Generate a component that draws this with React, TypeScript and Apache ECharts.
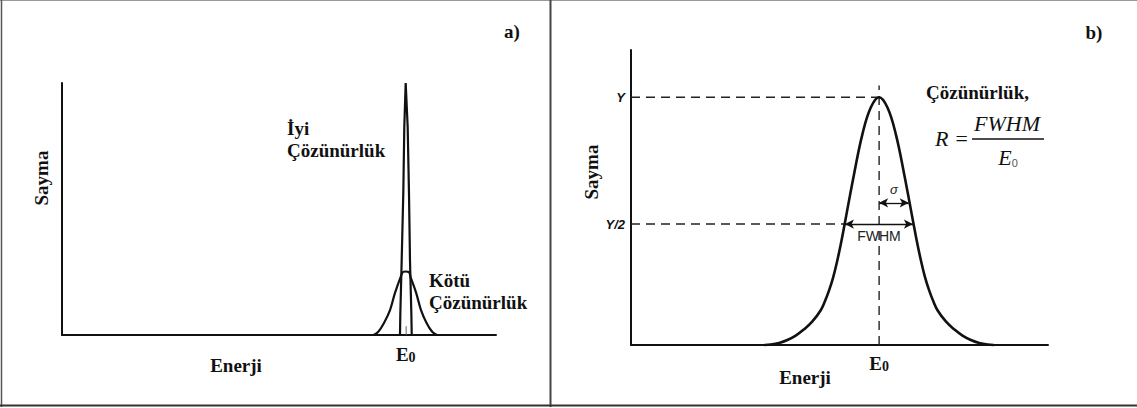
import React, { useEffect, useRef } from "react";
import * as echarts from "echarts";

// ---- Data ----
// Panel a: x in 0..100 energy units, y in 0..100 count units
const E0_A = 79.2;
const GOOD_PEAK: [number, number][] = [
  [77.88, 0], [77.95, 8], [78.27, 29.8], [78.64, 56.3], [78.87, 82.5], [79.19, 100],
  [79.65, 82.5], [79.95, 56.3], [80.18, 29.8], [80.5, 8], [80.58, 0],
];
const POOR_PEAK: [number, number][] = [
  [71.8, 0], [72.88, 1.3], [74.19, 4.8], [75.58, 9.9], [76.73, 16.7], [78.04, 23.1],
  [78.57, 25], [79.2, 25.2], [79.95, 25], [80.3, 23.1], [81.6, 16.7], [82.72, 9.9],
  [84.0, 4.8], [85.3, 1.3], [86.4, 0],
];
const E0_MARK: [number, number][] = [[79.3, 0], [79.3, 3.5]];

// Panel b
const E0_B = 59.5;
const PEAK_B: [number, number][] = [
  [32.0, 0], [33.5, 0.15], [35.5, 0.7], [37.5, 1.7], [39.5, 3.2], [41.5, 5.3], [43.5, 8.0],
  [45.5, 11.8], [46.5, 14.8], [47.5, 18.5], [48.5, 23], [49.5, 28.8], [50.5, 35.5],
  [51.5, 43], [53.5, 58], [55.5, 71.5], [57.5, 80.5], [59.5, 84],
  [61.5, 80.5], [63.5, 71.5], [65.5, 58], [67.5, 43], [68.5, 35.5], [69.5, 28.8],
  [70.5, 23], [71.5, 18.5], [72.5, 14.8], [73.5, 11.8], [75.5, 8.0], [77.5, 5.3],
  [79.5, 3.2], [81.5, 1.7], [83.5, 0.7], [85.5, 0.15], [87.0, 0],
];
const Y_LEVEL = 84;
const HALF_LEVEL = 41;
const FWHM_LEFT = 51.3;
const FWHM_RIGHT = 67.6;
const SIGMA_RIGHT = 66.6;
const SIGMA_LEVEL = 48.2;
const VLINE_TOP = 88;
const Y_TICKS = [HALF_LEVEL, Y_LEVEL];
const Y_TICK_LABELS = ["Y/2", "Y"];

const SERIF = "'Liberation Serif', 'Times New Roman', serif";
const SANS = "'Liberation Sans', Arial, sans-serif";
const INK = "#111";

const e0Rich = {
  e: { fontFamily: SERIF, fontWeight: "bold", fontSize: 19, color: INK, verticalAlign: "bottom", lineHeight: 20 },
  s: { fontFamily: SERIF, fontWeight: "bold", fontSize: 14, color: INK, verticalAlign: "bottom", lineHeight: 17 },
};

export default function App() {
  const ref = useRef<HTMLDivElement>(null);
  useEffect(() => {
    if (!ref.current) return;
    const chart = echarts.init(ref.current, null, { renderer: "svg" });
    const axisLine = { show: true, lineStyle: { color: INK, width: 2 } };
    const dash = { color: "#222", width: 1.4, type: [9, 6] as any };
    const bold19 = (text: string, x: number, y: number, align = "center", rot = 0) => ({
      type: "text",
      x,
      y,
      rotation: rot,
      style: {
        text,
        fill: INK,
        font: `bold 19px ${SERIF}`,
        align,
        verticalAlign: "middle",
      },
    });
    const hline = (x1: number, y1: number, x2: number, y2: number, w: number, c: string) => ({
      type: "line",
      shape: { x1, y1, x2, y2 },
      style: { stroke: c, lineWidth: w },
    });

    chart.setOption({
      animation: false,
      backgroundColor: "#fff",
      grid: [
        { left: 62, top: 83, width: 434, height: 252 },
        { left: 631, top: 50, width: 417, height: 295 },
      ],
      xAxis: [
        {
          gridIndex: 0, type: "value", min: 0, max: 100,
          axisLine, axisTick: { show: false }, splitLine: { show: false },
          axisLabel: { customValues: [E0_A], formatter: () => "{e|E}{s|0}", rich: e0Rich, margin: 9 },
        },
        {
          gridIndex: 1, type: "value", min: 0, max: 100,
          axisLine, axisTick: { show: false }, splitLine: { show: false },
          axisLabel: { customValues: [E0_B], formatter: () => "{e|E}{s|0}", rich: e0Rich, margin: 8 },
        },
      ],
      yAxis: [
        {
          gridIndex: 0, type: "value", min: 0, max: 100,
          axisLine, axisTick: { show: false }, splitLine: { show: false }, axisLabel: { show: false },
        },
        {
          gridIndex: 1, type: "value", min: 0, max: 100,
          axisLine, axisTick: { show: false }, splitLine: { show: false },
          axisLabel: {
            customValues: Y_TICKS,
            formatter: (v: number) => Y_TICK_LABELS[Y_TICKS.indexOf(v)] ?? "",
            fontFamily: SANS, fontStyle: "italic", fontWeight: "bold", fontSize: 13, color: INK, margin: 6,
          },
        },
      ],
      series: [
        {
          type: "line", xAxisIndex: 0, yAxisIndex: 0, data: POOR_PEAK, smooth: 0.35,
          showSymbol: false, clip: false, lineStyle: { color: INK, width: 2.2 },
        },
        {
          type: "line", xAxisIndex: 0, yAxisIndex: 0, data: GOOD_PEAK,
          showSymbol: false, clip: false, lineStyle: { color: INK, width: 2.2 },
        },
        {
          type: "line", xAxisIndex: 0, yAxisIndex: 0, data: E0_MARK,
          showSymbol: false, lineStyle: { color: "#666", width: 1 },
        },
        {
          type: "line", xAxisIndex: 1, yAxisIndex: 1, data: [[0, Y_LEVEL], [E0_B, Y_LEVEL]],
          showSymbol: false, lineStyle: dash,
        },
        {
          type: "line", xAxisIndex: 1, yAxisIndex: 1, data: [[0, HALF_LEVEL], [FWHM_LEFT, HALF_LEVEL]],
          showSymbol: false, lineStyle: dash,
        },
        {
          type: "line", xAxisIndex: 1, yAxisIndex: 1, data: [[E0_B, 0], [E0_B, VLINE_TOP]],
          showSymbol: false, lineStyle: dash,
        },
        {
          type: "line", xAxisIndex: 1, yAxisIndex: 1, data: PEAK_B, smooth: 0.4,
          showSymbol: false, clip: false, lineStyle: { color: INK, width: 2.6 },
          markLine: {
            silent: true,
            symbol: ["arrow", "arrow"],
            symbolSize: [7, 9],
            lineStyle: { type: "solid", color: INK, width: 1.3 },
            data: [
              [
                {
                  coord: [FWHM_LEFT, HALF_LEVEL],
                  label: {
                    show: true, position: "insideMiddleBottom", formatter: "FWHM",
                    fontFamily: SANS, fontSize: 14, color: "#222", distance: 5,
                  },
                },
                { coord: [FWHM_RIGHT, HALF_LEVEL] },
              ],
              [
                {
                  coord: [E0_B, SIGMA_LEVEL],
                  label: {
                    show: true, position: "insideMiddleTop", formatter: "σ",
                    fontFamily: SANS, fontStyle: "italic", fontSize: 13, color: "#222", distance: 7,
                  },
                },
                { coord: [SIGMA_RIGHT, SIGMA_LEVEL] },
              ],
            ],
          },
        },
      ],
      graphic: [
        // frame
        hline(0, 0.5, 1137, 0.5, 1, "#999"),
        hline(1.5, 0, 1.5, 407, 1.5, "#555"),
        hline(550.5, 0, 550.5, 407, 2, "#444"),
        hline(0, 405.5, 1137, 405.5, 2, "#333"),
        // panel a
        bold19("a)", 512, 31),
        bold19("Sayma", 41, 178, "center", Math.PI / 2),
        bold19("Enerji", 236, 365),
        bold19("İyi", 287, 128, "left"),
        bold19("Çözünürlük", 287, 150, "left"),
        bold19("Kötü", 429, 280, "left"),
        bold19("Çözünürlük", 429, 302, "left"),
        // panel b
        bold19("b)", 1094, 32),
        bold19("Sayma", 591, 172, "center", Math.PI / 2),
        bold19("Enerji", 805, 377),
        bold19("Çözünürlük,", 926, 92, "left"),
        {
          type: "text", x: 935, y: 138,
          style: { text: "R =", fill: INK, font: `italic 22px ${SERIF}`, align: "left", verticalAlign: "middle" },
        },
        hline(972, 139, 1044, 139, 1.3, INK),
        {
          type: "text", x: 1007, y: 123,
          style: { text: "FWHM", fill: INK, font: `italic 22px ${SERIF}`, align: "center", verticalAlign: "middle" },
        },
        {
          type: "text", x: 1008, y: 157,
          style: {
            text: "{e|E}{s|0}", align: "center", verticalAlign: "middle",
            rich: {
              e: { fontFamily: SERIF, fontStyle: "italic", fontSize: 22, fill: INK, verticalAlign: "bottom", lineHeight: 22 },
              s: { fontFamily: SANS, fontSize: 11, fill: "#555", verticalAlign: "bottom", lineHeight: 14 },
            },
          },
        },
      ],
    });
    return () => chart.dispose();
  }, []);
  return (
    <div
      ref={ref}
      style={{ position: "absolute", left: 0, top: 0, width: 1137, height: 408 }}
    />
  );
}
